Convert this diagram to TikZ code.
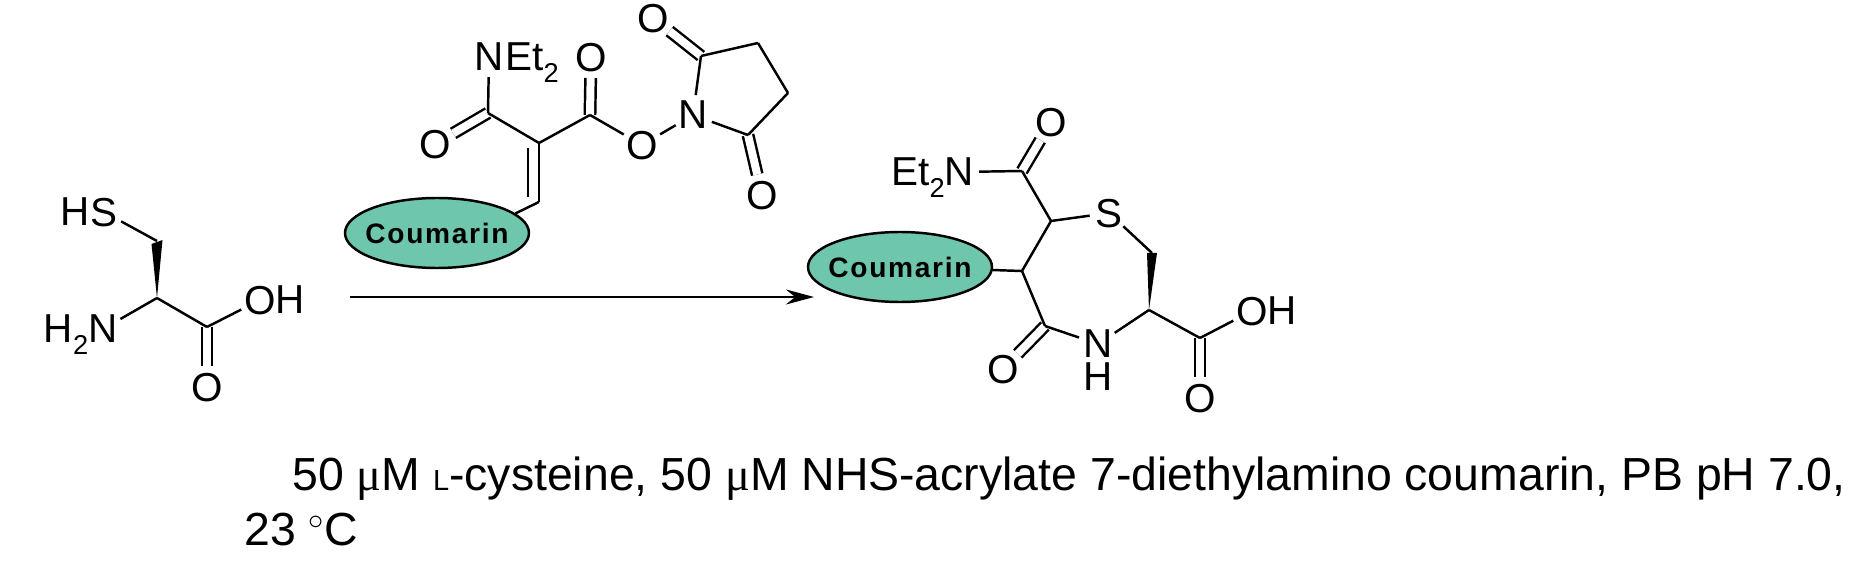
\documentclass[tikz,border=0pt]{standalone}
\usepackage{fontspec}
\setmainfont{Liberation Sans}
\newfontfamily\mufont{Liberation Serif}
\usetikzlibrary{arrows.meta,shapes.geometric}

\tikzset{
  atom/.style={circle,inner sep=0pt,outer sep=0pt,text depth=0pt,font=\fontsize{23}{27}\selectfont},
  coumarin/.style={ellipse,draw,fill=coumfill,inner sep=-0.14cm,minimum width=3.68cm,minimum height=1.4cm,
    font=\fontsize{16}{19}\selectfont\bfseries\addfontfeature{LetterSpace=6}},
  dbl/.style={double,double distance=0.16cm},
  caption/.style={anchor=base west,inner sep=0pt,font=\fontsize{26.4}{31}\selectfont}
}
\definecolor{coumfill}{HTML}{6EC6AC}
\newcommand{\tworaised}{\raisebox{-0.28em}{\fontsize{15.5}{18}\selectfont 2}}
\newcommand{\micro}{{\mufont μ}}

\begin{document}
\begin{tikzpicture}[x=0.2mm,y=-0.2mm,line width=1.4pt,node distance=0.58cm]
    \useasboundingbox (0,0) rectangle (1862,561);
    % cysteine
    \node [atom] (s1) at (104,212) {S};
    \node [atom] (h1) [left of=s1] {H};
    \node [atom] (n1) at (103,329) {N};
    \node [atom] (h2) [left of=n1,node distance=0.74cm] {H\tworaised};
    \node [atom] (oh1) at (260,300) {O};
    \node [atom] (h3) [right of=oh1,node distance=0.6cm] {H};
    \node [atom] (o1) at (207,387) {O};
    \coordinate (ch1) at (157,241);
    \coordinate (ca1) at (157,298);
    \coordinate (co1) at (207,327);
    % acrylate
    \node [atom] (n2) at (489,57) {N};
    \node [atom] (et1) [right of=n2,node distance=0.86cm] {Et\tworaised};
    \node [atom] (o2) at (435,144) {O};
    \node [atom] (o3) at (591,57) {O};
    \node [atom] (o4) at (642,145) {O};
    \node [atom] (n3) at (693,115) {N};
    \node [atom] (o5) at (653,18) {O};
    \node [atom] (o6) at (762,195) {O};
    \node [coumarin] (coum1) at (437,233) {Coumarin};
    \coordinate (am1) at (488,113);
    \coordinate (cc1) at (539,143);
    \coordinate (cc2) at (539,202);
    \coordinate (in1) at (528,148);
    \coordinate (in2) at (528,197);
    \coordinate (es1) at (590,115);
    \coordinate (su1) at (701,56);
    \coordinate (su2) at (758,43);
    \coordinate (su3) at (788,93);
    \coordinate (su4) at (748,135);
    % arrow
    \coordinate (start) at (350,297);
    \coordinate (tip) at (814,297);
    % product
    \node [coumarin] (coum2) at (900,267) {Coumarin};
    \node [atom] (s2) at (1109,213) {S};
    \node [atom] (n4) at (1098,344) {N};
    \node [atom] (h4) [below of=n4,node distance=0.66cm] {H};
    \node [atom] (o7) at (1003,369) {O};
    \node [atom] (n5) at (959,172) {N};
    \node [atom] (et2) [left of=n5,node distance=0.82cm] {Et\tworaised};
    \node [atom] (o8) at (1051,122) {O};
    \node [atom] (oh2) at (1252,311) {O};
    \node [atom] (h5) [right of=oh2,node distance=0.6cm] {H};
    \node [atom] (o9) at (1200,398) {O};
    \coordinate (ra) at (1022,271);
    \coordinate (rb) at (1051,221);
    \coordinate (rc) at (1152,253);
    \coordinate (rd) at (1149,310);
    \coordinate (re) at (1045,326);
    \coordinate (am2) at (1022,171);
    \coordinate (co2) at (1200,338);
    % wedges
    \fill (ca1) -- ([xshift=0.11cm,yshift=0.02cm]ch1) -- ([xshift=-0.11cm,yshift=-0.06cm]ch1) -- cycle;
    \fill (rd) -- ([xshift=0.1cm]rc) -- ([xshift=-0.1cm]rc) -- cycle;
    \path
    (co1) edge [dbl] (o1)
    (am1) edge [dbl] (o2)
    (es1) edge [dbl] (o3)
    (su1) edge [dbl] (o5)
    (su4) edge [dbl] (o6)
    (re) edge [dbl] (o7)
    (am2) edge [dbl] (o8)
    (co2) edge [dbl] (o9)
    (ch1) edge (s1)
    (ca1) edge (n1)
    (ca1) edge (co1)
    (co1) edge (oh1)
    (am1) edge (n2)
    (am1) edge (cc1)
    (cc1) edge (es1)
    (cc1) edge (cc2)
    (in1) edge (in2)
    (cc2) edge (coum1.14)
    (es1) edge (o4)
    (o4) edge (n3)
    (n3) edge (su1)
    (su1) edge (su2)
    (su2) edge (su3)
    (su3) edge (su4)
    (su4) edge (n3)
    (ra) edge (coum2)
    (ra) edge (rb)
    (ra) edge (re)
    (rb) edge (s2)
    (s2) edge (rc)
    (rd) edge (n4)
    (n4) edge (re)
    (rb) edge (am2)
    (am2) edge (n5)
    (rd) edge (co2)
    (co2) edge (oh2)
    ;
    \draw [line width=1.2pt,-{Stealth[length=0.56cm,width=0.3cm]}] (start) -- (tip);
    \node [caption] (line1) at (291,491) {50 \micro M {\fontsize{16.5}{19}\selectfont L}-cysteine, 50 \micro M NHS-acrylate 7-diethylamino coumarin, PB pH 7.0,};
    \node [caption] (line2) at (243,545) {23 $^\circ$C};
  \end{tikzpicture}
\end{document}
